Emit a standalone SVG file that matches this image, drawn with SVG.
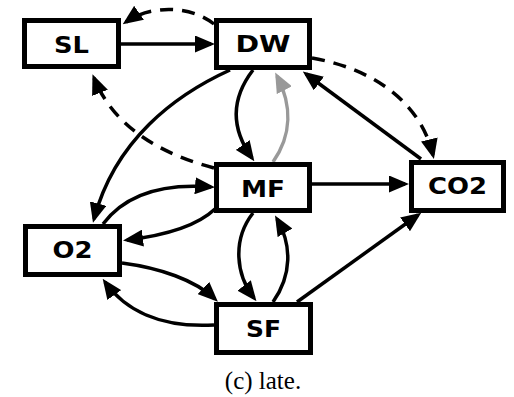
<svg xmlns="http://www.w3.org/2000/svg" width="514" height="397" viewBox="0 0 514 397">
<defs>
<style>
.box{fill:#fff;stroke:#000;stroke-width:5}
.lbl{font-family:"DejaVu Sans",sans-serif;font-weight:bold;font-size:23px;text-anchor:middle;fill:#000}
.e{fill:none;stroke:#000;stroke-width:3.5;marker-end:url(#ah)}
.d{stroke-dasharray:13 9}
.g{stroke:#999;marker-end:url(#ahg)}
.cap{font-family:"Liberation Serif",serif;font-size:25px;text-anchor:middle;fill:#000}
</style>
<marker id="ah" markerUnits="userSpaceOnUse" markerWidth="20" markerHeight="17" refX="16" refY="8.5" orient="auto">
<path d="M0,0 L20,8.5 L0,17 z" fill="#000"/>
</marker>
<marker id="ahg" markerUnits="userSpaceOnUse" markerWidth="20" markerHeight="17" refX="16" refY="8.5" orient="auto">
<path d="M0,0 L20,8.5 L0,17 z" fill="#999"/>
</marker>
</defs>
<rect width="514" height="397" fill="#fff"/>
<g id="connectors">
<path class="e" d="M121,44 L211,44"/>
<path class="e d" d="M214,24 C190,5 150,5 126,22"/>
<path class="e d" d="M214,168 C165,155 115,130 94,78"/>
<path class="e" d="M230,70 C175,95 115,140 94,219"/>
<path class="e" d="M103,224 C125,195 160,183 211,187"/>
<path class="e" d="M215,209 C195,228 160,236 127,240"/>
<path class="e" d="M253,70 C230,100 232,130 252,158"/>
<path class="e g" d="M273,162 C292,135 292,105 277,76"/>
<path class="e" d="M421,159 L306,74"/>
<path class="e d" d="M312,58 C370,68 420,100 433,155"/>
<path class="e" d="M312,184 L405,184"/>
<path class="e" d="M253,213 C232,240 236,275 254,298"/>
<path class="e" d="M273,302 C292,275 292,245 277,219"/>
<path class="e" d="M297,302 L418,215"/>
<path class="e" d="M122,263 C160,268 195,280 215,299"/>
<path class="e" d="M214,325 C160,328 125,310 105,282"/>
</g>
<g id="SL"><rect class="box" x="24.5" y="20.5" width="94" height="46"/><text class="lbl" x="71.5" y="53" textLength="35" lengthAdjust="spacingAndGlyphs">SL</text></g>
<g id="DW"><rect class="box" x="216.5" y="20.5" width="93" height="47"/><text class="lbl" x="263" y="52" textLength="55" lengthAdjust="spacingAndGlyphs">DW</text></g>
<g id="MF"><rect class="box" x="216.5" y="164.5" width="93" height="46"/><text class="lbl" x="263" y="197" textLength="44" lengthAdjust="spacingAndGlyphs">MF</text></g>
<g id="SF"><rect class="box" x="216.5" y="304.5" width="94" height="48"/><text class="lbl" x="263.5" y="337" textLength="35" lengthAdjust="spacingAndGlyphs">SF</text></g>
<g id="O2"><rect class="box" x="25.5" y="226.5" width="94" height="48"/><text class="lbl" x="72.5" y="258" textLength="40" lengthAdjust="spacingAndGlyphs">O2</text></g>
<g id="CO2"><rect class="box" x="411.5" y="162.5" width="92" height="48"/><text class="lbl" x="457.5" y="194" textLength="59" lengthAdjust="spacingAndGlyphs">CO2</text></g>
<text class="cap" x="263" y="389">(c) late.</text>
</svg>
